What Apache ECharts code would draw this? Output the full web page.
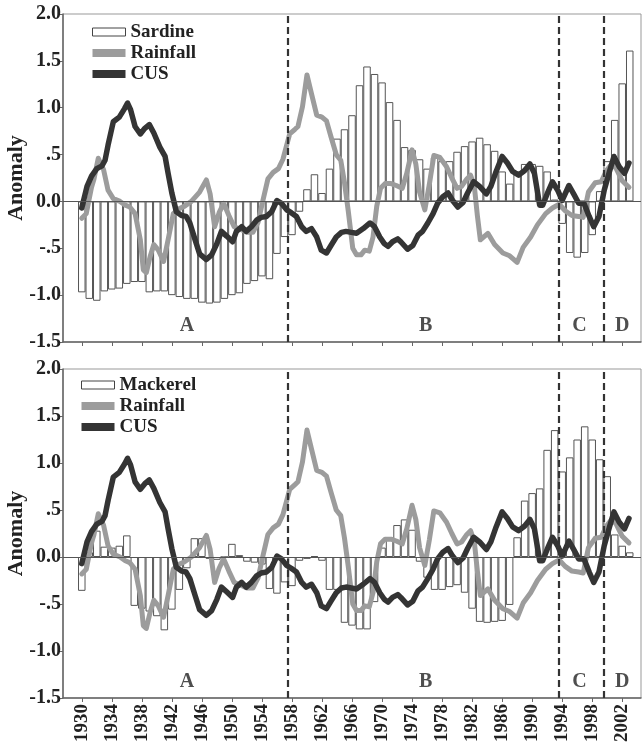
<!DOCTYPE html>
<html><head><meta charset="utf-8">
<script src="https://cdn.jsdelivr.net/npm/echarts@6/dist/echarts.min.js"></script>
<style>html,body{margin:0;padding:0;background:#fff}#c{width:643px;height:742px}</style>
</head><body><div id="c"></div>
<script>
const firstYear = 1930;
const sardine = [
 -0.97,-1.04,-1.06,-0.96,-0.94,-0.93,-0.88,-0.86,-0.86,-0.97,
 -0.96,-0.96,-1.00,-1.02,-1.04,-1.04,-1.08,-1.09,-1.08,-1.04,
 -1.00,-0.98,-0.88,-0.85,-0.80,-0.83,-0.56,-0.38,-0.36,-0.11,
 0.13,0.29,0.09,0.35,0.67,0.77,0.92,1.24,1.44,1.36,
 1.27,1.06,0.87,0.58,0.55,0.45,0.35,0.47,0.43,0.43,
 0.53,0.59,0.64,0.68,0.61,0.54,0.32,0.19,0.32,0.40,
 0.40,0.38,0.32,0.02,-0.24,-0.55,-0.60,-0.55,-0.36,0.11,
 0.43,0.87,1.26,1.61];
const mackerel = [
 -0.36,0.05,0.28,0.11,0.10,0.12,0.23,-0.52,-0.55,-0.58,
 -0.63,-0.78,-0.56,-0.35,-0.12,0.20,0.20,-0.02,-0.03,0.00,
 0.14,0.02,-0.05,-0.06,-0.08,-0.34,-0.39,-0.27,-0.31,-0.04,
 -0.02,0.01,-0.04,-0.35,-0.35,-0.70,-0.73,-0.77,-0.77,-0.48,
 0.10,0.21,0.34,0.40,0.29,-0.05,-0.22,-0.35,-0.35,-0.32,
 -0.30,-0.38,-0.55,-0.69,-0.70,-0.69,-0.68,-0.51,0.21,0.60,
 0.68,0.73,1.14,1.35,0.91,1.06,1.25,1.39,1.25,1.04,
 0.86,0.24,0.12,0.05];
const rainfall = [
 [1930.0,-0.18],[1930.6,-0.13],[1931.3,0.15],[1931.6,0.23],[1932.2,0.46],[1932.9,0.34],[1933.5,0.12],
 [1934.2,0.03],[1935.1,0.00],[1935.8,-0.04],[1936.4,-0.06],[1937.1,-0.13],[1937.8,-0.41],[1938.2,-0.73],
 [1938.6,-0.76],[1939.1,-0.59],[1939.6,-0.46],[1940.2,-0.52],[1940.9,-0.64],[1941.5,-0.41],[1942.2,-0.13],
 [1942.9,-0.08],[1943.7,-0.05],[1944.6,0.00],[1945.7,0.10],[1946.6,0.23],[1947.1,0.08],[1947.7,-0.27],
 [1948.3,-0.12],[1948.9,-0.02],[1949.6,-0.15],[1950.3,-0.27],[1951.2,-0.30],[1952.0,-0.33],[1952.8,-0.33],
 [1953.5,-0.22],[1954.1,0.00],[1954.8,0.24],[1955.5,0.31],[1956.2,0.35],[1956.8,0.45],[1957.3,0.60],
 [1957.7,0.72],[1958.4,0.77],[1958.8,0.80],[1959.4,1.01],[1960.0,1.35],[1960.6,1.15],[1961.3,0.92],
 [1962.0,0.90],[1962.6,0.86],[1963.2,0.69],[1963.9,0.50],[1964.5,0.44],[1965.0,0.20],[1965.5,-0.10],
 [1966.1,-0.50],[1966.6,-0.57],[1967.2,-0.57],[1967.7,-0.52],[1968.3,-0.53],[1968.8,-0.38],[1969.3,-0.05],
 [1969.8,0.14],[1970.4,0.19],[1971.2,0.19],[1971.9,0.17],[1972.7,0.14],[1973.3,0.30],[1974.0,0.55],
 [1974.5,0.40],[1975.0,0.10],[1975.7,-0.09],[1976.3,0.18],[1976.9,0.49],[1977.7,0.47],[1978.6,0.37],
 [1979.3,0.25],[1980.0,0.14],[1980.6,0.16],[1981.3,0.24],[1981.8,0.28],[1982.3,0.16],[1982.7,-0.15],
 [1983.1,-0.41],[1984.1,-0.34],[1985.0,-0.46],[1986.1,-0.55],[1987.0,-0.58],[1988.0,-0.65],[1988.8,-0.49],
 [1989.8,-0.38],[1990.7,-0.25],[1991.8,-0.13],[1992.7,-0.07],[1993.6,-0.03],[1994.4,-0.10],[1995.3,-0.15],
 [1996.2,-0.16],[1996.8,-0.17],[1997.5,0.10],[1998.4,0.20],[1999.2,0.21],[1999.9,0.33],[2000.6,0.40],
 [2001.2,0.35],[2002.0,0.22],[2002.9,0.15]];
const cus = [
 [1930.0,-0.07],[1930.7,0.16],[1931.3,0.27],[1932.0,0.35],[1932.7,0.38],[1933.1,0.44],[1933.5,0.60],
 [1934.2,0.85],[1935.0,0.90],[1935.7,0.99],[1936.1,1.05],[1936.5,0.98],[1937.1,0.80],[1937.8,0.72],
 [1938.4,0.78],[1939.0,0.82],[1939.6,0.73],[1940.4,0.58],[1941.1,0.48],[1941.5,0.30],[1942.0,0.09],
 [1942.6,-0.11],[1943.3,-0.15],[1943.9,-0.16],[1944.4,-0.23],[1945.1,-0.41],[1945.7,-0.56],[1946.6,-0.62],
 [1947.3,-0.57],[1948.0,-0.45],[1948.6,-0.32],[1949.3,-0.37],[1950.1,-0.43],[1950.6,-0.32],[1951.3,-0.27],
 [1951.9,-0.32],[1952.6,-0.27],[1953.3,-0.20],[1953.9,-0.17],[1954.6,-0.16],[1955.3,-0.11],[1956.0,0.01],
 [1956.6,-0.02],[1957.3,-0.09],[1957.9,-0.12],[1958.6,-0.16],[1959.3,-0.27],[1959.9,-0.32],[1960.6,-0.29],
 [1961.3,-0.38],[1961.9,-0.52],[1962.6,-0.55],[1963.2,-0.47],[1963.9,-0.38],[1964.6,-0.33],[1965.2,-0.32],
 [1965.9,-0.33],[1966.6,-0.34],[1967.5,-0.29],[1968.4,-0.23],[1969.0,-0.27],[1969.7,-0.38],[1970.3,-0.45],
 [1970.8,-0.48],[1971.4,-0.43],[1972.1,-0.40],[1972.5,-0.43],[1973.4,-0.51],[1974.1,-0.47],[1974.8,-0.36],
 [1975.4,-0.32],[1976.1,-0.23],[1976.8,-0.13],[1977.4,-0.02],[1978.1,0.05],[1978.8,0.09],[1979.4,0.01],
 [1980.1,-0.06],[1980.8,-0.01],[1981.4,0.09],[1982.2,0.21],[1983.0,0.16],[1983.9,0.08],[1984.5,0.16],
 [1985.2,0.32],[1986.0,0.48],[1986.7,0.41],[1987.4,0.32],[1988.2,0.28],[1989.0,0.33],[1989.7,0.40],
 [1990.3,0.30],[1991.0,-0.04],[1991.4,-0.04],[1992.1,0.10],[1992.7,0.21],[1993.4,0.12],[1994.0,0.01],
 [1994.9,0.17],[1995.6,0.07],[1996.2,-0.02],[1996.9,-0.02],[1997.6,-0.16],[1998.2,-0.27],[1998.9,-0.16],
 [1999.6,0.12],[2000.3,0.32],[2000.9,0.48],[2001.6,0.37],[2002.3,0.30],[2002.9,0.41]];
const xTickYears = [1930,1934,1938,1942,1946,1950,1954,1958,1962,1966,1970,1974,1978,1982,1986,1990,1994,1998,2002];
const yTickValues = [-1.5,-1.0,-0.5,0.0,0.5,1.0,1.5,2.0];
const yTickText = ['-1.5','-1.0','-.5','0.0','.5','1.0','1.5','2.0'];
const periodBounds = [1957.5,1993.5,1999.5];
const periodNames = ['A','B','C','D'];
const periodCenters = [1944.0,1975.8,1996.3,2002.0];
const periodLevel = -1.33;

const FONT = '"Liberation Serif","Times New Roman",serif';
const barYears = sardine.map((_, i) => firstYear + i);

const chart = echarts.init(document.getElementById('c'), null, {renderer: 'canvas'});

const grids = [
  {left: 63, top: 14, width: 578, height: 328},
  {left: 63, top: 369, width: 578, height: 329}
];
const fish = [['Sardine', sardine], ['Mackerel', mackerel]];
const legendPos = [{left: 92, top: 22}, {left: 81, top: 375}];

const option = {
  animation: false,
  backgroundColor: '#fff',
  grid: grids.map(g => Object.assign({show: true, borderColor: '#999', borderWidth: 1, backgroundColor: 'transparent', containLabel: false, outerBoundsMode: 'none'}, g)),
  legend: fish.map((f, i) => ({
    orient: 'vertical', left: legendPos[i].left, top: legendPos[i].top,
    itemWidth: 33, itemHeight: 8, itemGap: 1, padding: 0,
    selectedMode: false,
    textStyle: {fontFamily: FONT, fontWeight: 'bold', fontSize: 19, color: '#222', lineHeight: 20, padding: [0, 0, 0, 0]},
    data: [
      {name: f[0], icon: 'rect', itemStyle: {color: '#fff', borderColor: '#444', borderWidth: 1}},
      {name: 'Rainfall', icon: 'rect'},
      {name: 'CUS', icon: 'rect'}
    ]
  })),
  xAxis: grids.map((g, i) => ({
    type: 'value', gridIndex: i, min: 1927.5, max: 2004.5,
    splitLine: {show: false},
    axisLine: {show: true, onZero: false, lineStyle: {color: '#666', width: 1.5}},
    axisTick: {show: true, customValues: xTickYears, length: 4, lineStyle: {color: '#666'}},
    axisLabel: {show: i === 1, customValues: xTickYears, rotate: 90, margin: 6,
      fontFamily: FONT, fontWeight: 'bold', fontSize: 19, color: '#222',
      formatter: v => String(v)}
  })),
  yAxis: grids.map((g, i) => ({
    type: 'value', gridIndex: i, min: -1.5, max: 2.0, interval: 0.5,
    name: 'Anomaly', nameLocation: 'middle', nameGap: 36, nameRotate: 90, nameMoveOverlap: false,
    nameTextStyle: {fontFamily: FONT, fontWeight: 'bold', fontSize: 22, color: '#222'},
    splitLine: {show: false},
    axisLine: {show: true, onZero: false, lineStyle: {color: '#666', width: 1.5}},
    axisTick: {show: true, length: 3, lineStyle: {color: '#666'}},
    axisLabel: {margin: 2, fontFamily: FONT, fontWeight: 'bold', fontSize: 20, color: '#222',
      formatter: v => { const k = yTickValues.findIndex(t => Math.abs(t - v) < 1e-6); return k >= 0 ? yTickText[k] : ''; }}
  })),
  series: []
};

fish.forEach((f, i) => {
  option.series.push({
    name: f[0], type: 'bar', xAxisIndex: i, yAxisIndex: i,
    data: barYears.map((y, k) => [y, f[1][k]]),
    barWidth: 7.5,
    itemStyle: {color: '#fff', borderColor: '#555', borderWidth: 1},
    z: 2,
    markLine: {silent: true, symbol: 'none', label: {show: false},
      lineStyle: {color: '#555', width: 1, type: 'solid'},
      data: [{yAxis: 0}]}
  });
  option.series.push({
    name: 'Rainfall', type: 'line', xAxisIndex: i, yAxisIndex: i,
    data: rainfall, showSymbol: false, symbol: 'none', color: '#9c9c9c',
    lineStyle: {color: '#9c9c9c', width: 5, join: 'round', cap: 'round'}, z: 3
  });
  option.series.push({
    name: 'CUS', type: 'line', xAxisIndex: i, yAxisIndex: i,
    data: cus, showSymbol: false, symbol: 'none', color: '#343434',
    lineStyle: {color: '#343434', width: 5.5, join: 'round', cap: 'round'}, z: 4,
    markLine: {silent: true, symbol: 'none', label: {show: false},
      lineStyle: {color: '#333', width: 2.2, type: [7, 4]},
      data: periodBounds.map(b => ({xAxis: b}))}
  });
  option.series.push({
    name: 'periods', type: 'scatter', xAxisIndex: i, yAxisIndex: i,
    data: periodCenters.map((c, k) => [c, periodLevel]),
    symbolSize: 0, silent: true, z: 6,
    label: {show: true, position: 'inside', fontFamily: FONT, fontWeight: 'bold', fontSize: 20, color: '#222',
      formatter: p => periodNames[p.dataIndex]}
  });
});

chart.setOption(option);
</script>
</body></html>
